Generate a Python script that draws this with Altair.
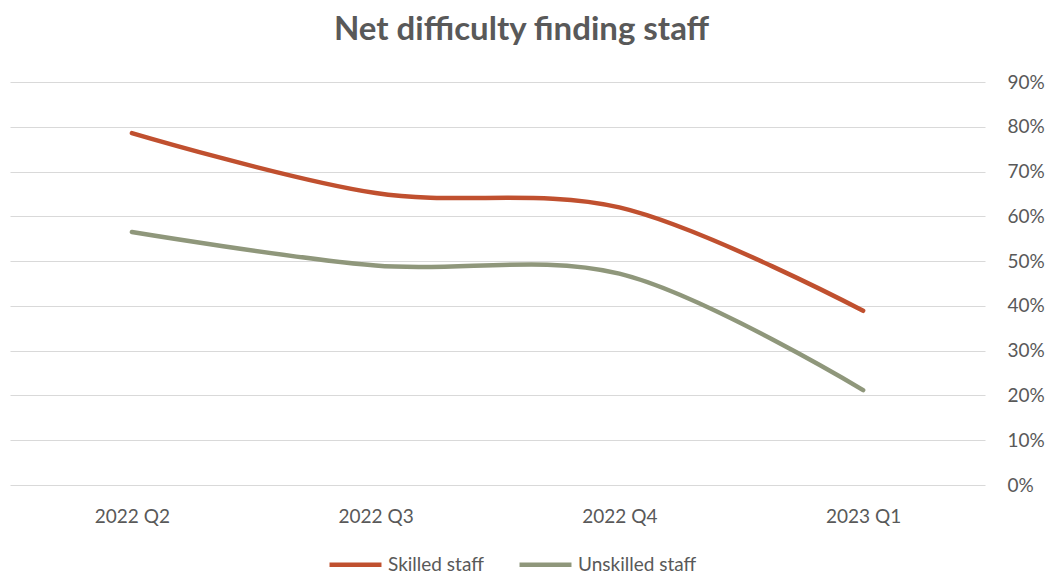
import altair as alt
import pandas as pd

quarters = ["2022 Q2", "2022 Q3", "2022 Q4", "2023 Q1"]
skilled = [0.786, 0.652, 0.620, 0.389]
unskilled = [0.565, 0.490, 0.472, 0.212]
series_names = ["Skilled staff", "Unskilled staff"]
series_colors = ["#C0502F", "#8F977B"]
y_ticks = [0, 0.1, 0.2, 0.3, 0.4, 0.5, 0.6, 0.7, 0.8, 0.9]

rows = []
for q, s, u in zip(quarters, skilled, unskilled):
    rows.append({"quarter": q, "series": series_names[0], "value": s})
    rows.append({"quarter": q, "series": series_names[1], "value": u})
df = pd.DataFrame(rows)

FONT = "Lato"
GREY = "#595959"

chart = alt.Chart(df).mark_line(
    interpolate="catmull-rom", strokeWidth=4.5, strokeCap="round"
).encode(
    x=alt.X("quarter:N", sort=quarters, title=None,
            axis=alt.Axis(labelAngle=0, domain=False, ticks=False, labelPadding=22,
                          labelFontSize=19, labelColor=GREY, labelFont=FONT, grid=False)),
    y=alt.Y("value:Q", title=None,
            scale=alt.Scale(domain=[0, 0.9], nice=False),
            axis=alt.Axis(orient="right", format=".0%", values=y_ticks, domain=False,
                          ticks=False, labelPadding=22, labelFontSize=19, labelColor=GREY,
                          labelFont=FONT, gridColor="#D9D9D9", gridWidth=1)),
    color=alt.Color("series:N", sort=series_names,
                    scale=alt.Scale(domain=series_names, range=series_colors),
                    legend=alt.Legend(title=None, orient="none", legendX=317, legendY=454,
                                      direction="horizontal", symbolType="stroke",
                                      symbolSize=2700, symbolStrokeWidth=4.5,
                                      labelFontSize=19, labelColor=GREY, labelFont=FONT,
                                      labelOffset=4, columnPadding=26)),
).properties(
    width=975,
    height=403,
    padding={"left": 2, "top": 74, "right": 60, "bottom": 92},
    autosize=alt.AutoSizeParams(type="none"),
    title=alt.TitleParams("Net difficulty finding staff", fontSize=33, font=FONT,
                          fontWeight="bold", color=GREY, anchor="middle", dx=24,
                          offset=26),
).configure_view(stroke=None)

chart.save("out.html", embed_options={"renderer": "svg", "actions": False})
